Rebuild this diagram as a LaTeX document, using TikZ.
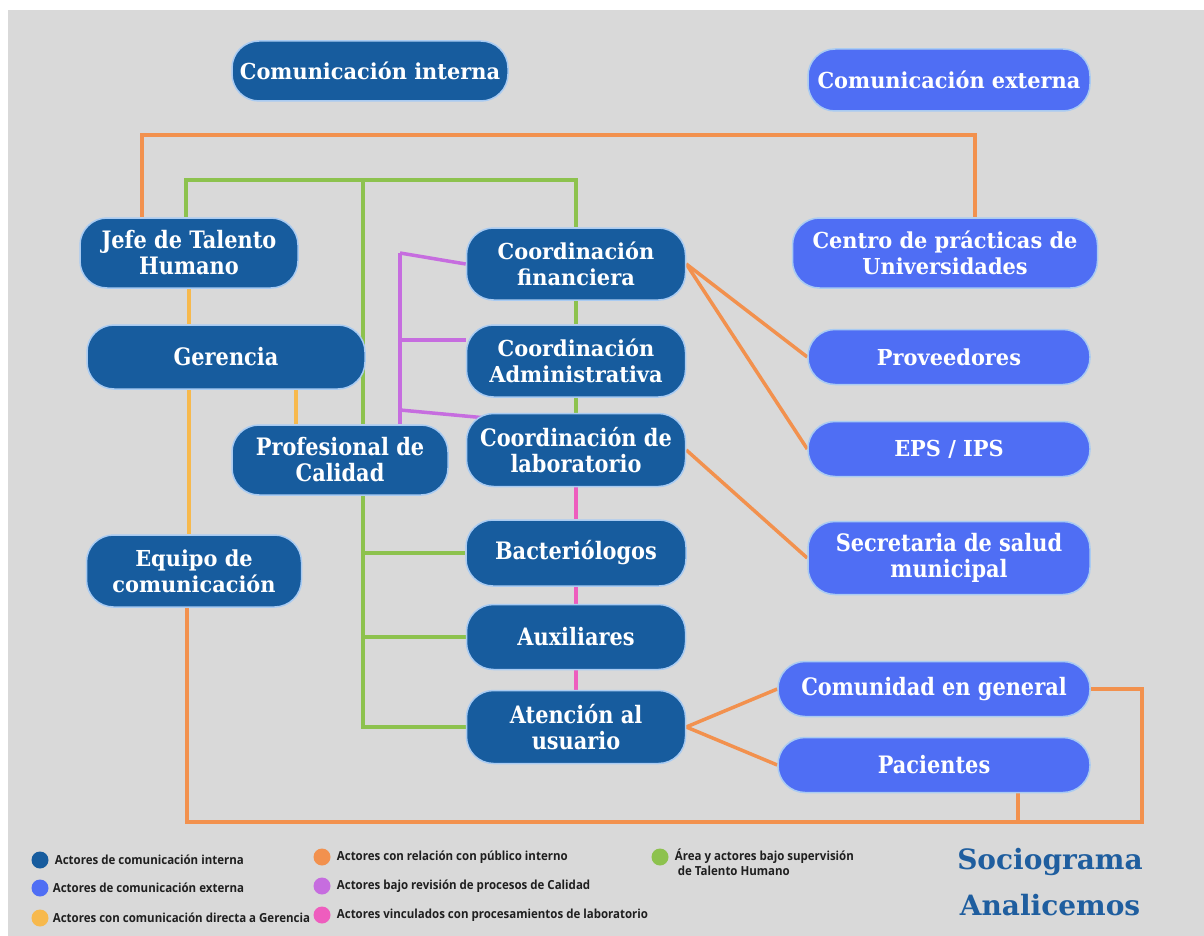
\documentclass[tikz,border=0pt]{standalone}
\usepackage{fontspec}
\setmainfont{DejaVu Serif}
\newfontfamily\widefam[FakeStretch=0.95]{DejaVu Serif}
\newfontfamily\narrowfam[FakeStretch=0.87]{DejaVu Serif}
\newfontfamily\legfam[FakeStretch=0.92]{Open Sans}
\usetikzlibrary{positioning,backgrounds}
\definecolor{paper}{HTML}{D9D9D9}
\definecolor{intblue}{HTML}{175C9E}
\definecolor{extblue}{HTML}{4F6EF4}
\definecolor{rimblue}{HTML}{A9CBF2}
\definecolor{relorange}{HTML}{F2914E}
\definecolor{talgreen}{HTML}{8DC24E}
\definecolor{calpurple}{HTML}{C66DDF}
\definecolor{labpink}{HTML}{EE5DBE}
\definecolor{geryellow}{HTML}{F7B94D}
\definecolor{titleblue}{HTML}{1F5E9F}
\definecolor{legink}{HTML}{1F1F1F}
\tikzset{
  intbox/.style={fill=intblue, draw=rimblue, line width=1.5pt, rounded corners=27pt,
    text=white, align=center, inner sep=0pt},
  extbox/.style={intbox, fill=extblue},
  wide/.style={font=\widefam\bfseries\fontsize{22}{26}\selectfont},
  narrow/.style={font=\narrowfam\bfseries\fontsize{24}{26}\selectfont},
  conn/.style={line width=3.5pt},
  pubint/.style={conn, draw=relorange},
  talento/.style={conn, draw=talgreen},
  calidad/.style={conn, draw=calpurple},
  labo/.style={conn, draw=labpink},
  gerdir/.style={conn, draw=geryellow},
  legdot/.style={circle, minimum size=17pt, inner sep=0pt},
  legtext/.style={font=\legfam\bfseries\fontsize{12.5}{15}\selectfont, text=legink, inner sep=0pt},
  titletext/.style={font=\bfseries\fontsize{28}{30}\selectfont, text=titleblue}
}
\begin{document}
\begin{tikzpicture}[x=1pt,y=1pt]
\useasboundingbox (0,0) rectangle (1204,-936);
% titulos
\node[intbox, wide, minimum width=276, minimum height=60] (cint) at (370,-71) {Comunicación interna};
\node[extbox, wide, minimum width=282, minimum height=62] (cext) at (949,-80) {Comunicación externa};
% comunicacion interna
\node[intbox, narrow, minimum width=218, minimum height=70] (jefe) at (189,-253) {Jefe de Talento\\Humano};
\node[intbox, narrow, minimum width=278, minimum height=64] (geren) at (226,-357) {Gerencia};
\node[intbox, narrow, minimum width=216, minimum height=70] (prof) at (340,-460) {Profesional de\\Calidad};
\node[intbox, wide, minimum width=215, minimum height=72] (equipo) at (194,-571) {Equipo de\\comunicación};
\node[intbox, wide, minimum width=219, minimum height=72] (finan) at (576,-264) {Coordinación\\financiera};
\node[intbox, wide, minimum width=219, minimum height=72] (admin) at (576,-361) {Coordinación\\Administrativa};
\node[intbox, narrow, minimum width=219, minimum height=73] (labor) at (576,-450) {Coordinación de\\laboratorio};
\node[intbox, narrow, minimum width=220, minimum height=66] (bacter) at (576,-553) {Bacteriólogos};
\node[intbox, narrow, minimum width=219, minimum height=65] (aux) at (576,-637) {Auxiliares};
\node[intbox, narrow, minimum width=219, minimum height=73] (aten) at (576,-727) {Atención al\\usuario};
% comunicacion externa
\node[extbox, wide, minimum width=305, minimum height=70] (centro) at (945,-253) {Centro de prácticas de\\Universidades};
\node[extbox, wide, minimum width=282, minimum height=55] (prove) at (949,-357) {Proveedores};
\node[extbox, wide, minimum width=282, minimum height=55] (eps) at (949,-449) {EPS / IPS};
\node[extbox, narrow, minimum width=282, minimum height=73] (secre) at (949,-558) {Secretaria de salud\\municipal};
\node[extbox, narrow, minimum width=312, minimum height=55] (comun) at (934,-689) {Comunidad en general};
\node[extbox, narrow, minimum width=312, minimum height=55] (pacie) at (934,-765) {Pacientes};
% convenciones
\node[legdot, fill=intblue] (lint) at (40,-860) {};
\node[legtext, right=6pt of lint] (tint) {Actores de comunicación interna};
\node[legdot, fill=extblue] (lext) at (40,-888) {};
\node[legtext, right=4pt of lext] (text) {Actores de comunicación externa};
\node[legdot, fill=geryellow] (lger) at (40,-918) {};
\node[legtext, right=4pt of lger] (tger) {Actores con comunicación directa a Gerencia};
\node[legdot, fill=relorange] (lrel) at (322,-857) {};
\node[legtext, right=6pt of lrel] (trel) {Actores con relación con público interno};
\node[legdot, fill=calpurple] (lcal) at (322,-886) {};
\node[legtext, right=6pt of lcal] (tcal) {Actores bajo revisión de procesos de Calidad};
\node[legdot, fill=labpink] (llab) at (322,-915) {};
\node[legtext, right=6pt of llab] (tlab) {Actores vinculados con procesamientos de laboratorio};
\node[legdot, fill=talgreen] (ltal) at (660,-857) {};
\node[legtext, align=left, anchor=north west] (ttal) at ([xshift=6pt,yshift=8pt]ltal.east) {Área y actores bajo supervisión\\ \ de Talento Humano};
\node[titletext] (tsoc) at (1050,-862) {Sociograma};
\node[titletext] (tana) at (1050,-905) {Analicemos};
% lineas
\coordinate (otop) at (0,-135);
\coordinate (gtop) at (0,-180);
\coordinate (obot) at (1142,-822);
\coordinate (gbus) at (363,0);
\coordinate (pbus) at (400,0);
\coordinate (pq1) at (400,-253);
\coordinate (pq2) at (400,-340);
\coordinate (pq3) at (400,-410);
\coordinate (jup) at ([xshift=-47pt]jefe.north);
\coordinate (cup) at ([xshift=30pt]centro.north);
\coordinate (jgr) at ([xshift=-3pt]jefe.north);
\coordinate (gpro) at ([xshift=-44pt]prof.north);
\coordinate (eqd) at ([xshift=-7pt]equipo.south);
\coordinate (pacd) at ([xshift=84pt]pacie.south);
\begin{scope}[on background layer]
\fill[paper] (8,-10) rectangle (1204,-936);
\draw[pubint] (jup) |- (otop -| cup) -- (cup);
\draw[pubint] (eqd) |- (obot) |- (comun.east);
\draw[pubint] (pacd) -- (pacd |- obot);
\draw[pubint] (finan.east) -- (prove.west);
\draw[pubint] (finan.east) -- (eps.west);
\draw[pubint] (labor.east) -- (secre.west);
\draw[pubint] (aten.east) -- (comun.west);
\draw[pubint] (aten.east) -- (pacie.west);
\draw[talento] (jgr) |- (gtop -| finan.north) -- (finan.north);
\draw[talento] (gtop -| gbus) -- (gbus |- prof.north);
\draw[talento] (gbus |- prof.south) -- (gbus |- aten.west) -- (aten.west);
\draw[talento] (gbus |- bacter.west) -- (bacter.west);
\draw[talento] (gbus |- aux.west) -- (aux.west);
\draw[talento] (finan.south) -- (admin.north);
\draw[talento] (admin.south) -- (labor.north);
\draw[calidad] (pq1) -- (pbus |- prof.north);
\draw[calidad] (pq1) -- (finan.west);
\draw[calidad] (pq2) -- (pq2 -| admin.west);
\draw[calidad] (pq3) -- ([xshift=18pt,yshift=-5pt]labor.north west);
\draw[labo] (labor.south) -- (bacter.north);
\draw[labo] (bacter.south) -- (aux.north);
\draw[labo] (aux.south) -- (aten.north);
\draw[gerdir] (jefe.south) -- (jefe.south |- geren.north);
\draw[gerdir] (jefe.south |- geren.south) -- (jefe.south |- equipo.north);
\draw[gerdir] (gpro) -- (gpro |- geren.south);
\end{scope}
\end{tikzpicture}
\end{document}
